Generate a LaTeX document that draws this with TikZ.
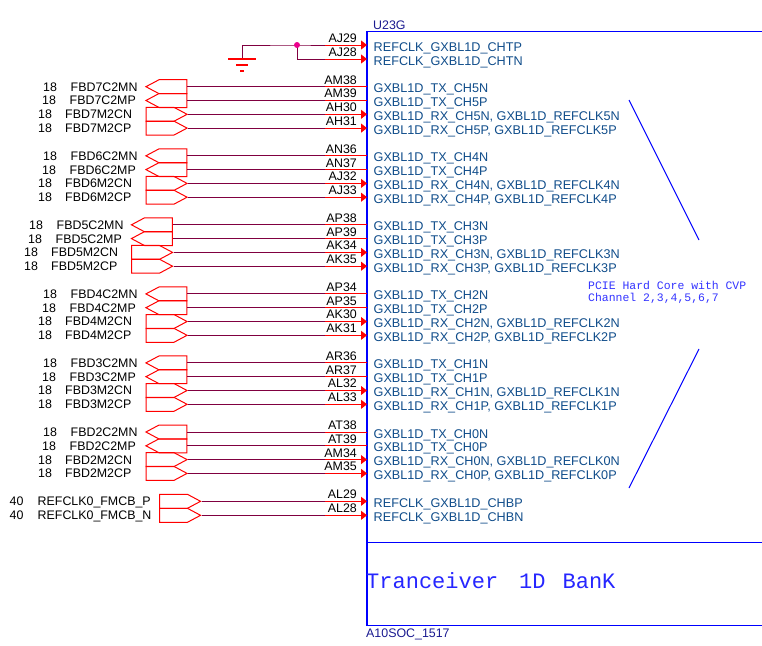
\documentclass[tikz,border=0pt]{standalone}
\usepackage{fontspec}
\setmainfont{Liberation Sans}
\newfontfamily\chipmono{Liberation Mono}
\usetikzlibrary{arrows.meta, shapes.symbols}
\definecolor{netwire}{HTML}{800040}
\definecolor{portblue}{HTML}{0F4C8A}
\definecolor{refblue}{HTML}{1A1A90}

\begin{document}
\begin{tikzpicture}[x=1pt, y=-1pt,
    % Styles
    every node/.style={inner sep=0pt, font=\fontsize{12.4}{14}\selectfont},
    txsig/.style={draw=red, line width=1pt, signal, signal to=west, signal pointer angle=56, minimum width=41pt, minimum height=14pt, xshift=6.5pt},
    rxsig/.style={draw=red, line width=1pt, signal, signal to=east, signal pointer angle=56, minimum width=41pt, minimum height=14pt, xshift=-6.5pt},
    wire/.style={netwire, line width=1pt},
    txend/.style={red, line width=1pt},
    rxend/.style={red, line width=1pt, -{Triangle[length=6pt, width=9pt]}},
    netlabel/.style={anchor=base west},
    pinlabel/.style={anchor=base east},
    portlabel/.style={anchor=base west, text=portblue, font=\fontsize{12.65}{14}\selectfont},
    chipline/.style={blue, line width=1.3pt},
    gndline/.style={red, line width=1.1pt},
]
\useasboundingbox (0,0) rectangle (762,645);

% Chip outline, open at the page edge
\coordinate (chipTR) at (762,31.7);
\coordinate (chipTL) at (367,31.7);
\coordinate (chipBL) at (367,625.3);
\coordinate (chipBR) at (762,625.3);
\coordinate (divL) at (367,542.7);
\coordinate (divR) at (762,542.7);
\draw[chipline] (chipTR) -- (chipTL) -- (chipBL) -- (chipBR);
\draw[chipline] (divL) -- (divR);
\node[anchor=base west, text=refblue] (refdes) at (373,29) {U23G};
\node[anchor=base west, text=refblue] (partname) at (366,637) {A10SOC\_1517};
\node[anchor=base west, text=blue!85, font=\chipmono\fontsize{22}{24}\selectfont] (bank) at (366,588) {Tranceiver\hspace{21pt}1D\hspace{17pt}BanK};

% Note with its two slanted lines
\node[anchor=base west, text=blue!80, font=\chipmono\fontsize{11.45}{13}\selectfont] (note1) at (588,289) {PCIE Hard Core with CVP};
\node[anchor=base west, text=blue!80, font=\chipmono\fontsize{11.45}{13}\selectfont] (note2) at (588,301) {Channel 2,3,4,5,6,7};
\coordinate (slashA1) at (629,100);
\coordinate (slashA2) at (699,240);
\coordinate (slashB1) at (699,349);
\coordinate (slashB2) at (629,488);
\draw[blue, line width=1pt] (slashA1) -- (slashA2);
\draw[blue, line width=1pt] (slashB1) -- (slashB2);

% Tied-off reference clock pins
\coordinate (gnd) at (242,45);
\coordinate (gndfoot) at (242,59);
\coordinate (tie) at (297,45);
\coordinate (tiefoot) at (297,59);
\coordinate (pinT1) at (325,45);
\coordinate (pinT2) at (325,59);
\coordinate (chipT1) at (367,45);
\coordinate (chipT2) at (367,59);
\draw[wire] (gndfoot) -- (gnd) -- (tie) -- (pinT1);
\draw[wire] (tie) -- (tiefoot) -- (pinT2);
\draw[rxend] (pinT1) -- (chipT1);
\draw[rxend] (pinT2) -- (chipT2);
\fill[magenta] (tie) circle (3pt);
\draw[gndline] (228,59) -- (256,59);
\draw[gndline] (236,65) -- (248,65);
\draw[gndline] (240,71) -- (244,71);
\node[pinlabel] (padT1) at (357,42.4) {AJ29};
\node[pinlabel] (padT2) at (357,56.4) {AJ28};
\node[portlabel] (portT1) at (373.5,51) {REFCLK\_GXBL1D\_CHTP};
\node[portlabel] (portT2) at (373.5,65) {REFCLK\_GXBL1D\_CHTN};

% One row per net: y / kind / number x / number / net x / signal centre x / net / pad / port
\foreach \y/\kind/\numx/\num/\netx/\sigx/\net/\pad/\port [count=\i] in {
    86.7/tx/43/18/70.5/166.5/FBD7C2MN/AM38/GXBL1D\_TX\_CH5N,
    100.5/tx/42/18/69.5/166.5/FBD7C2MP/AM39/GXBL1D\_TX\_CH5P,
    114.3/rx/38/18/65/166.5/FBD7M2CN/AH30/{GXBL1D\_RX\_CH5N, GXBL1D\_REFCLK5N},
    128.1/rx/38/18/65/166.5/FBD7M2CP/AH31/{GXBL1D\_RX\_CH5P, GXBL1D\_REFCLK5P},
    155.8/tx/43/18/70.5/166.5/FBD6C2MN/AN36/GXBL1D\_TX\_CH4N,
    169.6/tx/42/18/69.5/166.5/FBD6C2MP/AN37/GXBL1D\_TX\_CH4P,
    183.4/rx/38/18/65/166.5/FBD6M2CN/AJ32/{GXBL1D\_RX\_CH4N, GXBL1D\_REFCLK4N},
    197.2/rx/38/18/65/166.5/FBD6M2CP/AJ33/{GXBL1D\_RX\_CH4P, GXBL1D\_REFCLK4P},
    224.8/tx/29/18/56.5/152/FBD5C2MN/AP38/GXBL1D\_TX\_CH3N,
    238.6/tx/28/18/55.5/152/FBD5C2MP/AP39/GXBL1D\_TX\_CH3P,
    252.4/rx/24/18/51/152/FBD5M2CN/AK34/{GXBL1D\_RX\_CH3N, GXBL1D\_REFCLK3N},
    266.2/rx/24/18/51/152/FBD5M2CP/AK35/{GXBL1D\_RX\_CH3P, GXBL1D\_REFCLK3P},
    293.9/tx/43/18/70.5/166.5/FBD4C2MN/AP34/GXBL1D\_TX\_CH2N,
    307.7/tx/42/18/69.5/166.5/FBD4C2MP/AP35/GXBL1D\_TX\_CH2P,
    321.5/rx/38/18/65/166.5/FBD4M2CN/AK30/{GXBL1D\_RX\_CH2N, GXBL1D\_REFCLK2N},
    335.3/rx/38/18/65/166.5/FBD4M2CP/AK31/{GXBL1D\_RX\_CH2P, GXBL1D\_REFCLK2P},
    362.9/tx/43/18/70.5/166.5/FBD3C2MN/AR36/GXBL1D\_TX\_CH1N,
    376.7/tx/42/18/69.5/166.5/FBD3C2MP/AR37/GXBL1D\_TX\_CH1P,
    390.5/rx/38/18/65/166.5/FBD3M2CN/AL32/{GXBL1D\_RX\_CH1N, GXBL1D\_REFCLK1N},
    404.3/rx/38/18/65/166.5/FBD3M2CP/AL33/{GXBL1D\_RX\_CH1P, GXBL1D\_REFCLK1P},
    432/tx/43/18/70.5/166.5/FBD2C2MN/AT38/GXBL1D\_TX\_CH0N,
    445.8/tx/42/18/69.5/166.5/FBD2C2MP/AT39/GXBL1D\_TX\_CH0P,
    459.6/rx/38/18/65/166.5/FBD2M2CN/AM34/{GXBL1D\_RX\_CH0N, GXBL1D\_REFCLK0N},
    473.4/rx/38/18/65/166.5/FBD2M2CP/AM35/{GXBL1D\_RX\_CH0P, GXBL1D\_REFCLK0P},
    501.3/rx/9.5/40/37.5/180/REFCLK0\_FMCB\_P/AL29/REFCLK\_GXBL1D\_CHBP,
    515.3/rx/9.5/40/37.5/180/REFCLK0\_FMCB\_N/AL28/REFCLK\_GXBL1D\_CHBN%
} {
    \node[\kind sig] (sig\i) at (\sigx,\y) {};
    \coordinate (pin\i) at (325,\y);
    \coordinate (chip\i) at (367,\y);
    \draw[wire] (sig\i.east) -- (pin\i);
    \draw[\kind end] (pin\i) -- (chip\i);
    \node[netlabel] (num\i) at (\numx,\y+4.4) {\num};
    \node[netlabel] (net\i) at (\netx,\y+4.4) {\net};
    \node[pinlabel] (pad\i) at (357,\y-2.6) {\pad};
    \node[portlabel] (port\i) at (373.5,\y+6) {\port};
}

\end{tikzpicture}
\end{document}
